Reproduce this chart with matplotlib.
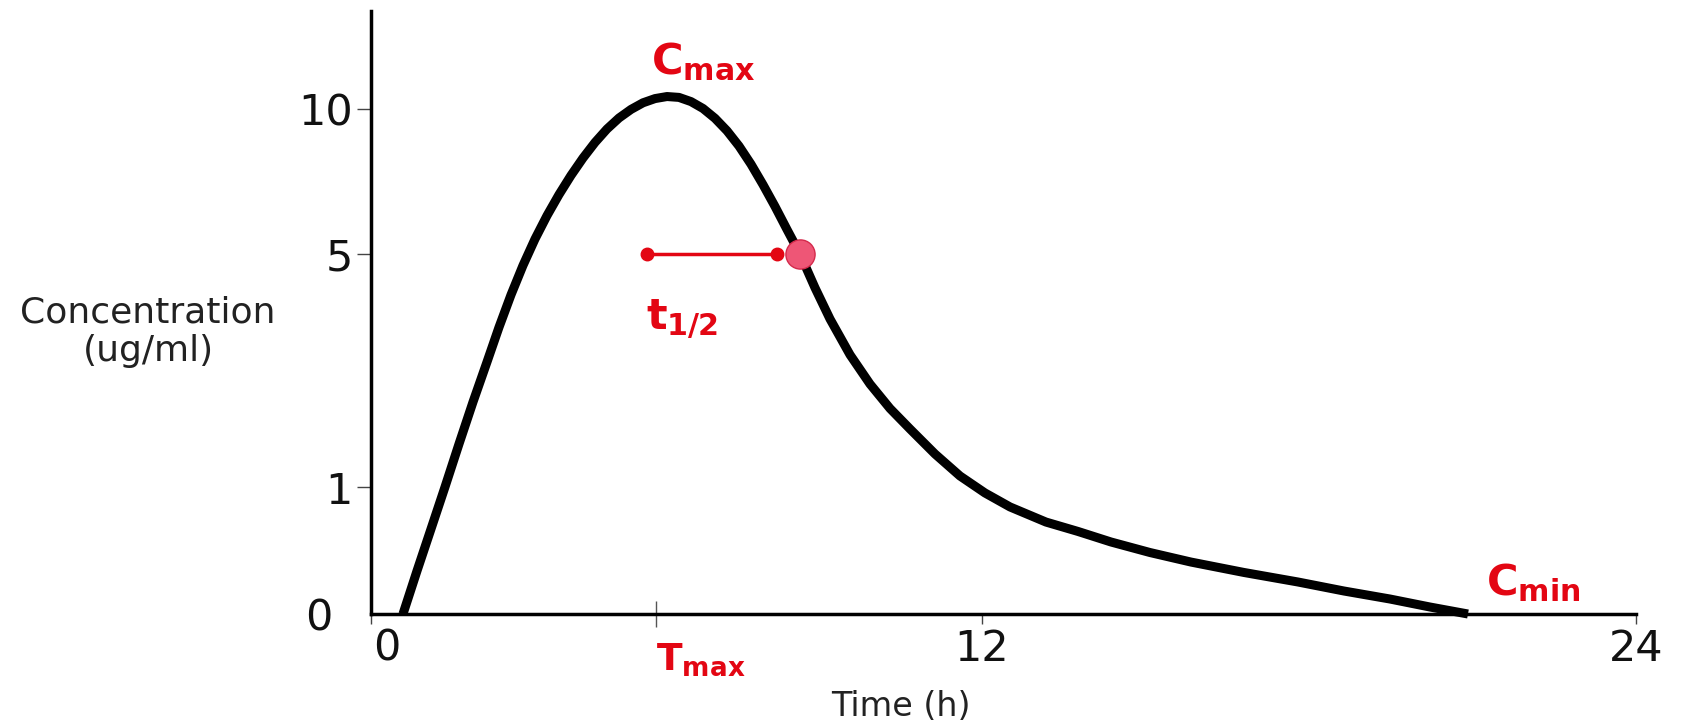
"""
Plasma concentration-time curve with Cmax, Tmax, t1/2 and Cmin marked.
"""
import numpy as np
import matplotlib.pyplot as plt
from matplotlib.transforms import ScaledTranslation


# Curve: time (h) and concentration (ug/ml)
time_h = [0.628, 0.903, 1.178, 1.453, 1.728, 2.003, 2.278, 2.514, 2.750, 2.985,
          3.221, 3.457, 3.692, 3.928, 4.164, 4.400, 4.635, 4.871, 5.107, 5.342,
          5.578, 5.814, 6.049, 6.285, 6.521, 6.756, 6.992, 7.228, 7.463, 7.699,
          7.935, 8.170, 8.426, 8.720, 9.015, 9.408, 9.800, 10.193, 10.586, 11.077,
          11.568, 12.055, 12.514, 13.174, 13.761, 14.367, 15.083, 15.835, 16.807,
          17.798, 18.642, 19.486, 20.220, 20.917]
conc = [0.0, 0.339, 0.669, 1.0, 1.738, 2.459, 3.146, 3.743, 4.300, 4.804,
        5.517, 6.324, 7.048, 7.710, 8.310, 8.848, 9.310, 9.690, 9.986, 10.214,
        10.359, 10.43, 10.40, 10.255, 10.017, 9.679, 9.248, 8.721, 8.097, 7.390,
        6.638, 5.845, 5.0, 4.420, 3.884, 3.270, 2.768, 2.348, 1.996, 1.567,
        1.189, 0.953, 0.843, 0.724, 0.650, 0.567, 0.484, 0.409, 0.327,
        0.252, 0.181, 0.118, 0.055, 0.0]

# Half-life marker: bar from start to end, big dot on the curve
half_start = 5.42
half_end = 7.97
half_point = 8.43
half_conc = 5.0

t_max = 5.6

x_ticks = [0, 12, 24]
y_ticks = [0, 1, 5, 10]

# The drawing does not use even spacing, so both axes get a piecewise scale
X_VALS = [0, 12, 24]
X_POS = [0, 611, 1265]
Y_VALS = [0, 1, 5, 10, 13.38]
Y_POS = [0, 127, 360, 505, 603]

RED = '#e30613'
W, H, DPI = 1684, 725, 100


def piecewise(vals, pos):
    fwd = lambda v: np.interp(v, vals, pos)
    inv = lambda p: np.interp(p, pos, vals)
    return fwd, inv


def main():
    plt.rcParams['font.family'] = ['DejaVu Sans']
    plt.rcParams['mathtext.fontset'] = 'dejavusans'

    fig = plt.figure(figsize=(W / DPI, H / DPI), dpi=DPI)
    ax = fig.add_axes([371 / W, 1 - 614 / H, 1265 / W, 603 / H])

    ax.set_xscale('function', functions=piecewise(X_VALS, X_POS))
    ax.set_yscale('function', functions=piecewise(Y_VALS, Y_POS))
    ax.set_xlim(0, 24)
    ax.set_ylim(0, 13.38)

    ax.plot(time_h, conc, color='k', lw=6.5, solid_joinstyle='round',
            solid_capstyle='butt', clip_on=False, zorder=3)

    # t1/2 bar
    ax.plot([half_start, half_end], [half_conc, half_conc], color=RED, lw=2.5,
            marker='o', ms=9, zorder=4)
    ax.plot([half_point], [half_conc], marker='o', ms=21, color='#ee5676',
            mec='#d42a4c', mew=1, zorder=5)

    # labels
    ax.text(5.5, 11.2, r'$\mathbf{C}_{\mathbf{max}}$', color=RED, fontsize=31,
            ha='left', va='baseline')
    ax.text(5.4, 3.7, r'$\mathbf{t}_{\mathbf{1/2}}$', color=RED, fontsize=31,
            ha='left', va='baseline')
    ax.text(21.25, 0.15, r'$\mathbf{C}_{\mathbf{min}}$', color=RED, fontsize=31,
            ha='left', va='baseline')

    # axes
    for side in ['top', 'right']:
        ax.spines[side].set_visible(False)
    for side in ['left', 'bottom']:
        ax.spines[side].set_linewidth(2.5)
        ax.spines[side].set_color('k')

    ax.set_yticks(y_ticks, [str(v) for v in y_ticks])
    ax.set_xticks(x_ticks, [str(v) for v in x_ticks])
    ax.tick_params(axis='both', which='major', direction='out', length=10,
                   width=1, color='#444444', labelsize=31, labelcolor='#111111')
    ax.tick_params(axis='y', pad=3)
    ax.tick_params(axis='x', length=7, pad=3)

    ax.yaxis.get_major_ticks()[0].tick1line.set_visible(False)
    lab0 = ax.get_yticklabels()[0]
    lab0.set_transform(lab0.get_transform() + ScaledTranslation(-0.2, 0, fig.dpi_scale_trans))
    xlab0 = ax.get_xticklabels()[0]
    xlab0.set_transform(xlab0.get_transform() + ScaledTranslation(0.16, 0, fig.dpi_scale_trans))

    # Tmax as a minor tick crossing the axis
    ax.set_xticks([t_max], [r'$\mathbf{T}_{\mathbf{max}}$'], minor=True)
    ax.tick_params(axis='x', which='minor', direction='inout', length=19, width=1,
                   color='#555555', labelcolor=RED, labelsize=27, pad=10)
    for lab in ax.get_xticklabels(minor=True):
        lab.set_horizontalalignment('left')

    fig.text(148 / W, 1 - 332 / H, 'Concentration\n(ug/ml)', ha='center', va='center',
             fontsize=26, color='#222222', linespacing=1.15)
    fig.text(901 / W, 1 - 707 / H, 'Time (h)', ha='center', va='center',
             fontsize=24, color='#222222')

    fig.savefig('out.png', dpi=DPI)


if __name__ == '__main__':
    main()
